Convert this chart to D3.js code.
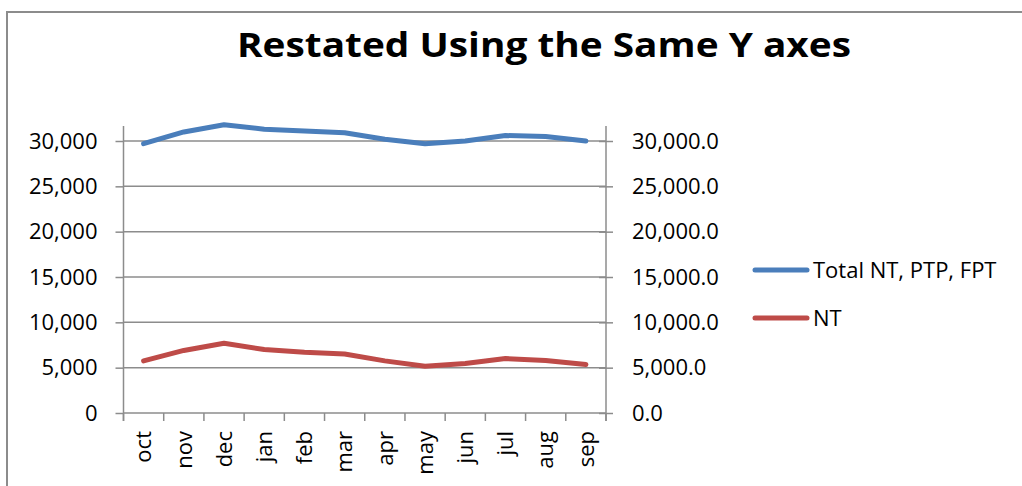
<!DOCTYPE html>
<html><head><meta charset="utf-8">
<script src="https://cdn.jsdelivr.net/npm/d3@7"></script>
<style>
html,body{margin:0;padding:0;background:#fff;}
svg{display:block;font-family:"Open Sans",sans-serif;}
</style></head>
<body><svg id="c" width="1022" height="486"></svg>
<script>
const categories = ["oct","nov","dec","jan","feb","mar","apr","may","jun","jul","aug","sep"];
const totalValues = [29700, 31000, 31800, 31300, 31100, 30900, 30200, 29700, 30000, 30600, 30500, 30000];
const ntValues = [5750, 6900, 7700, 7000, 6700, 6500, 5750, 5150, 5450, 6000, 5800, 5350];
const yTicks = [0, 5000, 10000, 15000, 20000, 25000, 30000];
const seriesNames = ["Total NT, PTP, FPT", "NT"];
const seriesColors = ["#4a7ebb", "#be4b48"];

const svg = d3.select("#c");
const L = 123.5, R = 606, T = 141, B = 413;
const gray = "#8c8c8c";

svg.append("rect").attr("x", 7).attr("y", 12).attr("width", 1100).attr("height", 600)
  .attr("fill", "none").attr("stroke", gray).attr("stroke-width", 2);

svg.append("text").attr("x", 544).attr("y", 57).attr("text-anchor", "middle")
  .attr("font-size", 34).attr("font-weight", "bold").attr("fill", "#000")
  .attr("textLength", 614).attr("lengthAdjust", "spacingAndGlyphs")
  .text("Restated Using the Same Y axes");

const x = d3.scaleBand().domain(categories).range([L, R]);
const y = d3.scaleLinear().domain([0, 30000]).range([B, T]);

// gridlines
svg.append("g").selectAll("line").data(yTicks.filter(d => d > 0)).join("line")
  .attr("x1", L).attr("x2", R).attr("y1", d => y(d)).attr("y2", d => y(d))
  .attr("stroke", gray).attr("stroke-width", 1.5);

// left axis
const la = svg.append("g").attr("transform", `translate(${L},0)`)
  .call(d3.axisLeft(y).tickValues(yTicks).tickSize(8).tickPadding(18).tickFormat(d3.format(",")));
// right axis
const ra = svg.append("g").attr("transform", `translate(${R},0)`)
  .call(d3.axisRight(y).tickValues(yTicks).tickSize(7).tickPadding(19).tickFormat(d3.format(",.1f")));
ra.selectAll(".tick line").attr("x1", -7);
// bottom axis: ticks at band boundaries
const xb = svg.append("g").attr("transform", `translate(0,${B})`);
const bounds = categories.map(c => x(c)).concat([R]);
xb.append("line").attr("x1", L).attr("x2", R).attr("y1", 0).attr("y2", 0).attr("stroke", gray).attr("stroke-width", 1.5);
xb.selectAll("line.t").data(bounds).join("line").attr("class", "t")
  .attr("x1", d => d).attr("x2", d => d).attr("y1", 0).attr("y2", 8)
  .attr("stroke", gray).attr("stroke-width", 1.5);
xb.selectAll("text").data(categories).join("text")
  .attr("transform", d => `translate(${x(d) + x.bandwidth() / 2},18) rotate(-90)`)
  .attr("text-anchor", "end").attr("dy", "0.35em")
  .attr("font-size", 22).attr("fill", "#000").text(d => d);

[la, ra].forEach(a => {
  a.select(".domain").attr("stroke", gray).attr("stroke-width", 1.5).attr("d", a === la ? `M0,${T - 15}V${B + 8}` : `M0,${T - 15}V${B + 8}`);
  a.selectAll(".tick line").attr("stroke", gray).attr("stroke-width", 1.5);
  a.selectAll(".tick text").attr("font-size", 22).attr("fill", "#000").attr("font-family", "Open Sans");
});

const line = d3.line().x((d, i) => x(categories[i]) + x.bandwidth() / 2).y(d => y(d));
[totalValues, ntValues].forEach((vals, i) => {
  svg.append("path").attr("d", line(vals)).attr("fill", "none")
    .attr("stroke", seriesColors[i]).attr("stroke-width", 5)
    .attr("stroke-linejoin", "round").attr("stroke-linecap", "round");
});

// legend
const lg = svg.append("g");
seriesNames.forEach((n, i) => {
  const ly = 270 + i * 48;
  lg.append("line").attr("x1", 755).attr("x2", 807).attr("y1", ly).attr("y2", ly)
    .attr("stroke", seriesColors[i]).attr("stroke-width", 5).attr("stroke-linecap", "round");
  lg.append("text").attr("x", 813).attr("y", ly).attr("dy", "0.35em")
    .attr("font-size", 22).attr("fill", "#000").text(n);
});
</script></body></html>
